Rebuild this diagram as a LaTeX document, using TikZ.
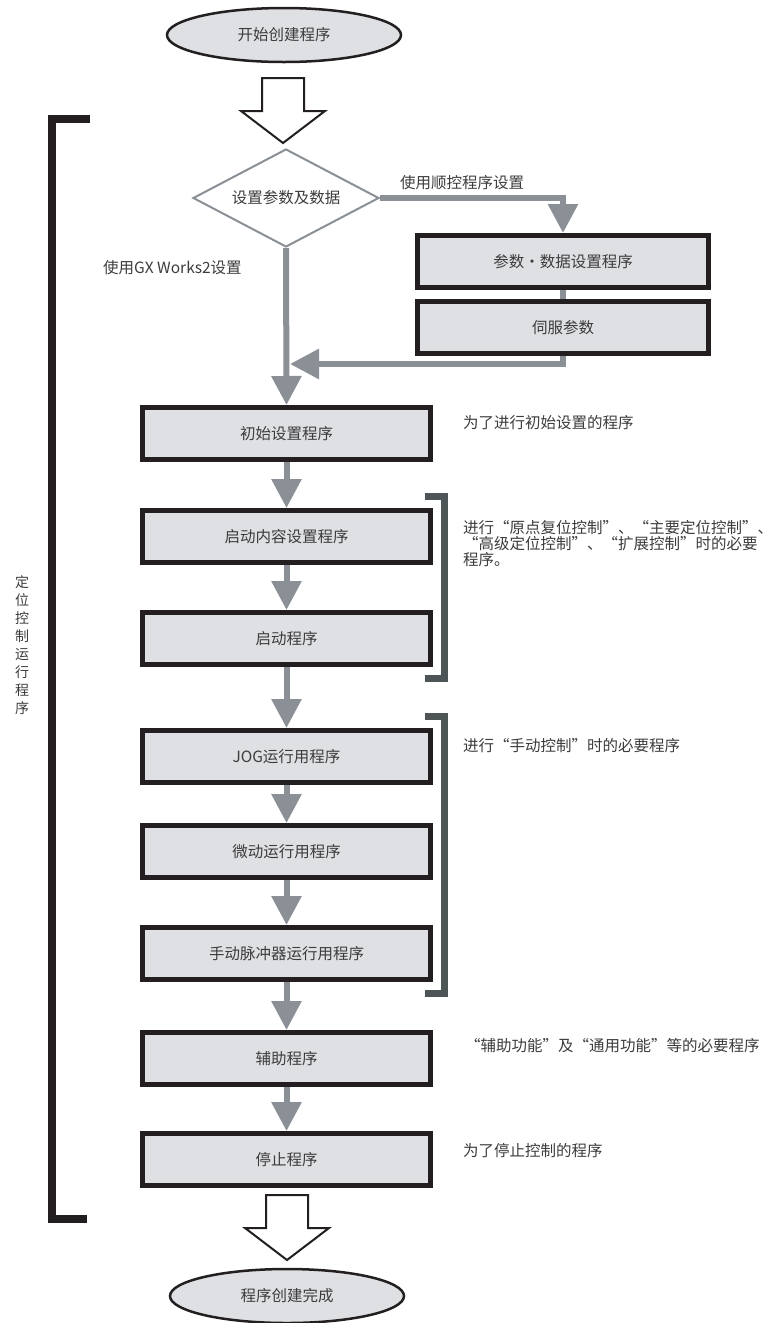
\documentclass[tikz,border=0pt]{standalone}
\usepackage{fontspec}
\setmainfont{Noto Sans CJK SC}
\newfontfamily\descfont{Noto Sans CJK SC}[CharacterWidth=Full]
\usetikzlibrary{shapes.geometric,arrows.meta}
\definecolor{boxfill}{RGB}{223,224,228}
\definecolor{flowgray}{RGB}{138,144,150}
\definecolor{inkblack}{RGB}{35,31,32}
\definecolor{brkgray}{RGB}{77,85,86}
\definecolor{txtgray}{RGB}{60,60,60}

\begin{document}
\begin{tikzpicture}[x=1pt, y=-1pt,
  every node/.style={font=\fontsize{15.5}{16}\selectfont, text=txtgray},
  prog/.style={draw=inkblack, line width=5pt, fill=boxfill,
    minimum width=288pt, minimum height=52pt, inner sep=0pt},
  term/.style={ellipse, draw=inkblack, line width=2.5pt, fill=boxfill,
    minimum width=234pt, minimum height=54pt, inner sep=0pt},
  decide/.style={diamond, draw=flowgray, line width=2pt, fill=white,
    minimum width=186pt, minimum height=98pt, aspect=1.88, inner sep=0pt},
  flow/.style={draw=flowgray, line width=6pt, -{Triangle[width=29pt,length=29pt]}},
  note/.style={anchor=west, inner sep=0pt, font=\descfont\fontsize{15.5}{16}\selectfont},
  brk/.style={line width=7pt, line join=miter}]
  \useasboundingbox (0,0) rectangle (773,1323);

  % start and end
  \node[term] (start) at (284,35) {开始创建程序};
  \node[term] (done) at (287,1296) {程序创建完成};
  \foreach \cx/\ty in {283/78, 287/1195}
    \draw[inkblack, line width=2pt, fill=white, line join=miter]
      (\cx-21,\ty) -- (\cx+21,\ty) -- (\cx+21,\ty+33) -- (\cx+42,\ty+33)
      -- (\cx,\ty+65) -- (\cx-42,\ty+33) -- (\cx-21,\ty+33) -- cycle;

  % setting branch
  \node[decide] (setp) at (286,198) {设置参数及数据};
  \node[prog, minimum width=291pt] (pds) at (563,261.5) {参数・数据设置程序};
  \node[prog, minimum width=291pt] (servo) at (563,327.5) {伺服参数};
  \node[anchor=west, inner sep=0pt] (lblseq) at (400,183) {使用顺控程序设置};
  \node[anchor=west, inner sep=0pt] (lblgx) at (103,268) {使用GX Works2设置};

  % program boxes
  \node[prog] (init) at (286.5,433.5) {初始设置程序};
  \node[prog] (stset) at (286.5,536.5) {启动内容设置程序};
  \node[prog] (stprog) at (286.5,638.5) {启动程序};
  \node[prog] (jog) at (286.5,756.5) {JOG运行用程序};
  \node[prog] (inch) at (286.5,851.5) {微动运行用程序};
  \node[prog] (mpg) at (286.5,953.5) {手动脉冲器运行用程序};
  \node[prog] (aux) at (286.5,1058.5) {辅助程序};
  \node[prog] (stop) at (286.5,1159.5) {停止程序};

  % connectors
  \coordinate (join) at (290,364);
  \draw[flow] (setp.east) -| (pds.north);
  \draw[draw=flowgray, line width=6pt] (pds.south) -- (servo.north);
  \draw[flow] (setp.south) -- (init.north);
  \draw[flow] (servo.south) |- (join);
  \draw[flow] (init) -- (stset);
  \draw[flow] (stset) -- (stprog);
  \draw[flow] (stprog) -- (jog);
  \draw[flow] (jog) -- (inch);
  \draw[flow] (inch) -- (mpg);
  \draw[flow] (mpg) -- (aux);
  \draw[flow] (aux) -- (stop);

  % brackets
  \draw[brk, line width=8pt, inkblack] (90,119) -- (52,119) -- (52,1219) -- (87,1219);
  \draw[brk, brkgray] (425,496.5) -- (444.5,496.5) -- (444.5,678.5) -- (425,678.5);
  \draw[brk, brkgray] (425,716.5) -- (444.5,716.5) -- (444.5,993.5) -- (425,993.5);
  \node[align=center, inner sep=0pt, font=\fontsize{14}{18}\selectfont] (vlabel) at (22,645)
    {定\\位\\控\\制\\运\\行\\程\\序};

  % notes
  \node[note] (ninit) at (463,423) {为了进行初始设置的程序};
  \node[note, align=left] (nstart) at (463,544)
    {进行“原点复位控制”、“主要定位控制”、\\“高级定位控制”、“扩展控制”时的必要\\程序。};
  \node[note] (nman) at (463,746) {进行“手动控制”时的必要程序};
  \node[note] (naux) at (465,1046) {“辅助功能”及“通用功能”等的必要程序};
  \node[note] (nstop) at (463,1151) {为了停止控制的程序};
\end{tikzpicture}
\end{document}
